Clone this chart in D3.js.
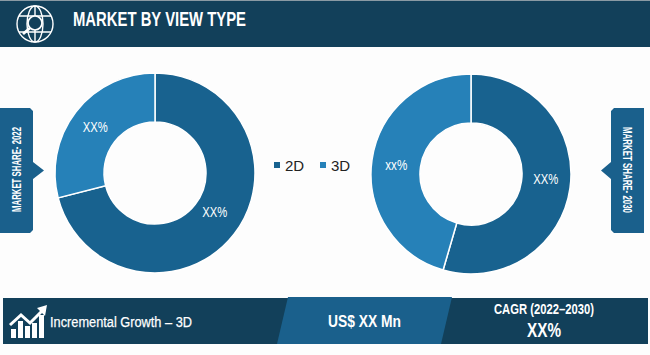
<!DOCTYPE html>
<html>
<head>
<meta charset="utf-8">
<script src="https://cdn.jsdelivr.net/npm/d3@7"></script>
<style>
  html, body { margin: 0; padding: 0; background: #fdfdfd; }
  svg { display: block; }
  text { font-family: "Liberation Sans", sans-serif; }
</style>
</head>
<body>
<div id="chart"></div>
<script>
const categories = ["2D", "3D"];
const share2022 = [71, 29];
const share2030 = [54.5, 45.5];
const labels2022 = ["XX%", "XX%"];
const labels2030 = ["XX%", "xx%"];
const titleText = "MARKET BY VIEW TYPE";

const width = 650;
const height = 355;
const navy = "#12405a";
const blue = "#1a608c";

const svg = d3
  .select("#chart")
  .append("svg")
  .attr("width", width)
  .attr("height", height);

const color = d3.scaleOrdinal().domain(categories).range(["#18628f", "#2681b8"]);

// no condensed font installed, so squeeze the text to the measured width
function addText(parent, str, size, len, bold) {
  return parent
    .append("text")
    .attr("fill", "#fff")
    .attr("textLength", len)
    .attr("lengthAdjust", "spacingAndGlyphs")
    .style("font-size", size + "px")
    .style("font-weight", bold ? "bold" : "normal")
    .text(str);
}

// header band
svg.append("rect").attr("width", width).attr("height", 47).attr("fill", navy);
svg.append("rect").attr("width", width).attr("height", 1).attr("fill", "#8a9aa4");
addText(svg, titleText, 20, 173, true).attr("x", 73).attr("y", 26);

// globe icon with magnifier
const globe = svg
  .append("g")
  .attr("transform", "translate(35,24)")
  .attr("fill", "none")
  .attr("stroke", "#fff")
  .attr("stroke-width", 1.4);
globe.append("circle").attr("r", 18);
globe.append("ellipse").attr("rx", 8).attr("ry", 18);
globe.append("path").attr("d", "M-16,-8H16M-16,8H16M0,-18V18");
globe.append("circle").attr("cx", 0).attr("cy", -1).attr("r", 7).attr("fill", navy).attr("stroke-width", 1.7);
globe.append("path").attr("d", "M-5,4L-12,10").attr("stroke-width", 2.8);

// donuts
const pie = d3.pie().sort(null);
const arc = d3.arc().innerRadius(51).outerRadius(100);

function drawDonut(cx, cy, values, labels, nudge) {
  const g = svg.append("g").attr("transform", `translate(${cx},${cy})`);
  const slices = pie(values);
  g.selectAll("path")
    .data(slices)
    .enter()
    .append("path")
    .attr("d", arc)
    .attr("fill", (d, i) => color(categories[i]))
    .attr("stroke", "#fff")
    .style("stroke-width", "1.5px");
  g.selectAll("text")
    .data(slices)
    .enter()
    .append("text")
    .attr("transform", (d, i) => {
      const c = arc.centroid(d);
      return `translate(${c[0]},${c[1] + nudge[i]})`;
    })
    .attr("dy", "0.35em")
    .attr("text-anchor", "middle")
    .attr("fill", "#fff")
    .attr("textLength", (d, i) => (labels[i] === "xx%" ? 22 : 25))
    .attr("lengthAdjust", "spacingAndGlyphs")
    .style("font-size", "14px")
    .text((d, i) => labels[i]);
}

drawDonut(155, 173, share2022, labels2022, [-7.5, 0.5]);
drawDonut(471, 174, share2030, labels2030, [-6, 2]);

// legend
const legend = svg
  .selectAll(".legend")
  .data(categories)
  .enter()
  .append("g")
  .attr("class", "legend")
  .attr("transform", (d, i) => `translate(${274 + i * 46},162)`);
legend.append("rect").attr("width", 6).attr("height", 6).attr("fill", (d) => color(d));
legend
  .append("text")
  .attr("x", 11)
  .attr("y", 9)
  .attr("fill", "#222")
  .style("font-size", "15px")
  .text((d) => d);

// side tags
svg
  .append("path")
  .attr("d", "M0,108H30L33,111V162L44,170.5L33,179V230L30,233H0Z")
  .attr("fill", blue);
addText(svg, "MARKET SHARE- 2022", 12, 85, true)
  .attr("transform", "translate(17,169.5) rotate(-90)")
  .attr("text-anchor", "middle")
  .attr("dy", "0.35em");
svg
  .append("path")
  .attr("d", "M644,108H614L611,111V162L601,170.5L611,179V230L614,233H644Z")
  .attr("fill", blue);
addText(svg, "MARKET SHARE- 2030", 12, 86, true)
  .attr("transform", "translate(627,170) rotate(90)")
  .attr("text-anchor", "middle")
  .attr("dy", "0.35em");

// footer
svg.append("rect").attr("x", 3).attr("y", 298).attr("width", 645).attr("height", 46).attr("fill", navy);
svg.append("path").attr("d", "M288,297H452L441,344H277Z").attr("fill", blue);

// growth icon
const icon = svg.append("g").attr("fill", "#fff");
[[11, 329, 9], [18, 321, 17], [25, 326, 12], [32, 323, 15], [39, 315, 23]].forEach((b) => {
  icon.append("rect").attr("x", b[0]).attr("y", b[1]).attr("width", 5).attr("height", b[2]);
});
icon
  .append("path")
  .attr("d", "M10,325L21,315L30,323L42,311")
  .attr("fill", "none")
  .attr("stroke", "#fff")
  .attr("stroke-width", 3);
icon.append("path").attr("d", "M47,305L37,308L45,316Z");

addText(svg, "Incremental Growth – 3D", 15.5, 142, false)
  .attr("x", 50)
  .attr("y", 327)
  .attr("stroke", "#fff")
  .attr("stroke-width", 0.25);
addText(svg, "US$ XX Mn", 16.5, 73, true).attr("x", 328).attr("y", 327);
addText(svg, "CAGR (2022–2030)", 14.5, 100, true).attr("x", 494).attr("y", 314);
addText(svg, "XX%", 20, 34, true).attr("x", 527).attr("y", 337);
</script>
</body>
</html>
